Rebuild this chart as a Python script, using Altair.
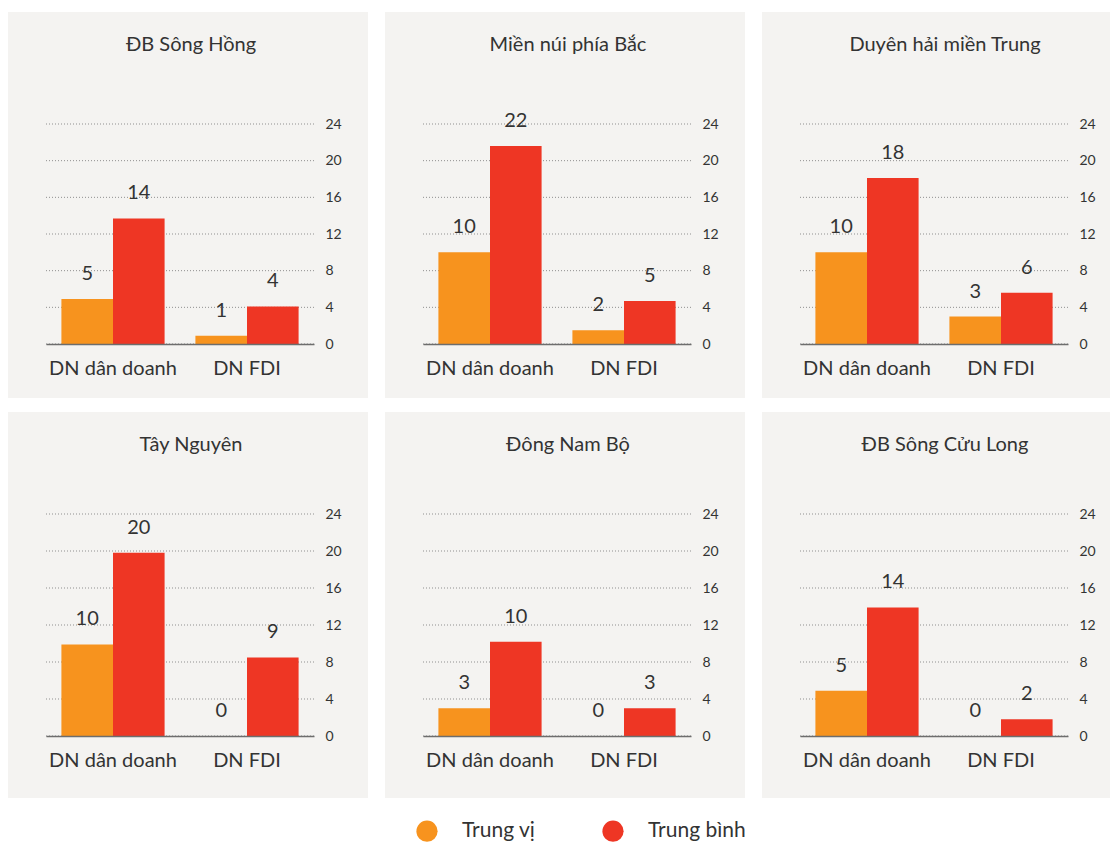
import altair as alt
import pandas as pd

regions = ["ĐB Sông Hồng", "Miền núi phía Bắc", "Duyên hải miền Trung",
           "Tây Nguyên", "Đông Nam Bộ", "ĐB Sông Cửu Long"]
groups = ["DN dân doanh", "DN FDI"]
series = ["Trung vị", "Trung bình"]

median_private = [4.9, 10.0, 10.0, 9.9, 3.0, 4.9]
mean_private = [13.7, 21.6, 18.1, 19.8, 10.2, 13.9]
median_fdi = [0.9, 1.5, 3.0, 0.0, 0.0, 0.0]
mean_fdi = [4.1, 4.7, 5.6, 8.5, 3.0, 1.8]

label_median_private = ["5", "10", "10", "10", "3", "5"]
label_mean_private = ["14", "22", "18", "20", "10", "14"]
label_median_fdi = ["1", "2", "3", "0", "0", "0"]
label_mean_fdi = ["4", "5", "6", "9", "3", "2"]

y_ticks = [0, 4, 8, 12, 16, 20, 24]
colors = ["#F7931E", "#EE3624"]

rows = []
for i, r in enumerate(regions):
    rows.append(dict(region=r, group=groups[0], series=series[0], value=median_private[i], label=label_median_private[i]))
    rows.append(dict(region=r, group=groups[0], series=series[1], value=mean_private[i], label=label_mean_private[i]))
    rows.append(dict(region=r, group=groups[1], series=series[0], value=median_fdi[i], label=label_median_fdi[i]))
    rows.append(dict(region=r, group=groups[1], series=series[1], value=mean_fdi[i], label=label_mean_fdi[i]))
df = pd.DataFrame(rows)
grid_df = pd.DataFrame({"tick": y_ticks})

FONT = "Lato"
TEXT = "#333333"
BG = "#F4F3F1"
W = 268

yscale = alt.Scale(domain=[0, 24], nice=False, zero=True)
y_axis = alt.Axis(orient="right", values=y_ticks, title=None, ticks=False, domain=False,
                  grid=False, labelFont=FONT, labelFontSize=14, labelColor=TEXT,
                  labelPadding=11, zindex=1)
x_axis = alt.Axis(title=None, labelAngle=0, ticks=False, labelFont=FONT, labelFontSize=20,
                  labelColor=TEXT, labelPadding=14, domainColor="#6d6d6d", domainWidth=1.5,
                  grid=False, zindex=1)
x_enc = alt.X("group:N", sort=groups, scale=alt.Scale(paddingInner=0.23, paddingOuter=0.115), axis=x_axis)
xo_enc = alt.XOffset("series:N", sort=series, scale=alt.Scale(paddingInner=0, paddingOuter=0))
color_enc = alt.Color("series:N", sort=series, scale=alt.Scale(domain=series, range=colors),
                      legend=alt.Legend(orient="none", direction="horizontal", title=None,
                                        symbolType="circle", symbolSize=450, symbolStrokeWidth=0,
                                        labelFont=FONT, labelFontSize=21, labelColor=TEXT,
                                        labelOffset=24, columnPadding=66,
                                        legendX=370, legendY=696))


def panel(i, H, left, right, top, bottom, title_y):
    d = df[df.region == regions[i]]
    name_df = pd.DataFrame({"region": [regions[i]]})
    bg = alt.Chart(name_df).mark_rect(color=BG).encode(
        x=alt.value(-left), x2=alt.value(W + right), y=alt.value(-top), y2=alt.value(H + bottom))
    title = alt.Chart(name_df).mark_text(font=FONT, fontSize=20, color=TEXT, baseline="middle",
                                         align="center").encode(
        text="region:N", x=alt.value(145), y=alt.value(title_y))
    grid = alt.Chart(grid_df).mark_rule(color="#8f8f8f", strokeDash=[1, 2], strokeWidth=1).encode(
        y=alt.Y("tick:Q", scale=yscale, axis=y_axis), x=alt.value(0), x2=alt.value(W))
    bars = alt.Chart(d).mark_bar().encode(
        x=x_enc, xOffset=xo_enc, y=alt.Y("value:Q", scale=yscale, axis=y_axis), color=color_enc)
    labels = alt.Chart(d).mark_text(font=FONT, fontSize=20, color=TEXT, dy=-25, baseline="middle").encode(
        x=x_enc, xOffset=xo_enc, y=alt.Y("value:Q", scale=yscale, axis=y_axis), text="label:N")
    return alt.layer(bg, grid, bars, labels, title).properties(width=W, height=H)


row1 = alt.hconcat(
    panel(0, 220, 38, 54, 112, 54, -79),
    panel(1, 220, 38, 54, 112, 54, -79),
    panel(2, 220, 38, 42, 112, 54, -79),
    spacing=17)
row2 = alt.hconcat(
    panel(3, 222, 38, 54, 102, 62, -69),
    panel(4, 222, 38, 54, 102, 62, -69),
    panel(5, 222, 38, 42, 102, 62, -69),
    spacing=17)

chart = alt.vconcat(row1, row2, spacing=14).resolve_scale(color="shared").properties(
    padding={"left": 8, "top": 12, "right": 0, "bottom": 0},
    background="white",
).configure_view(stroke=None)

chart.save("out.html", embed_options={"renderer": "svg", "actions": False})
